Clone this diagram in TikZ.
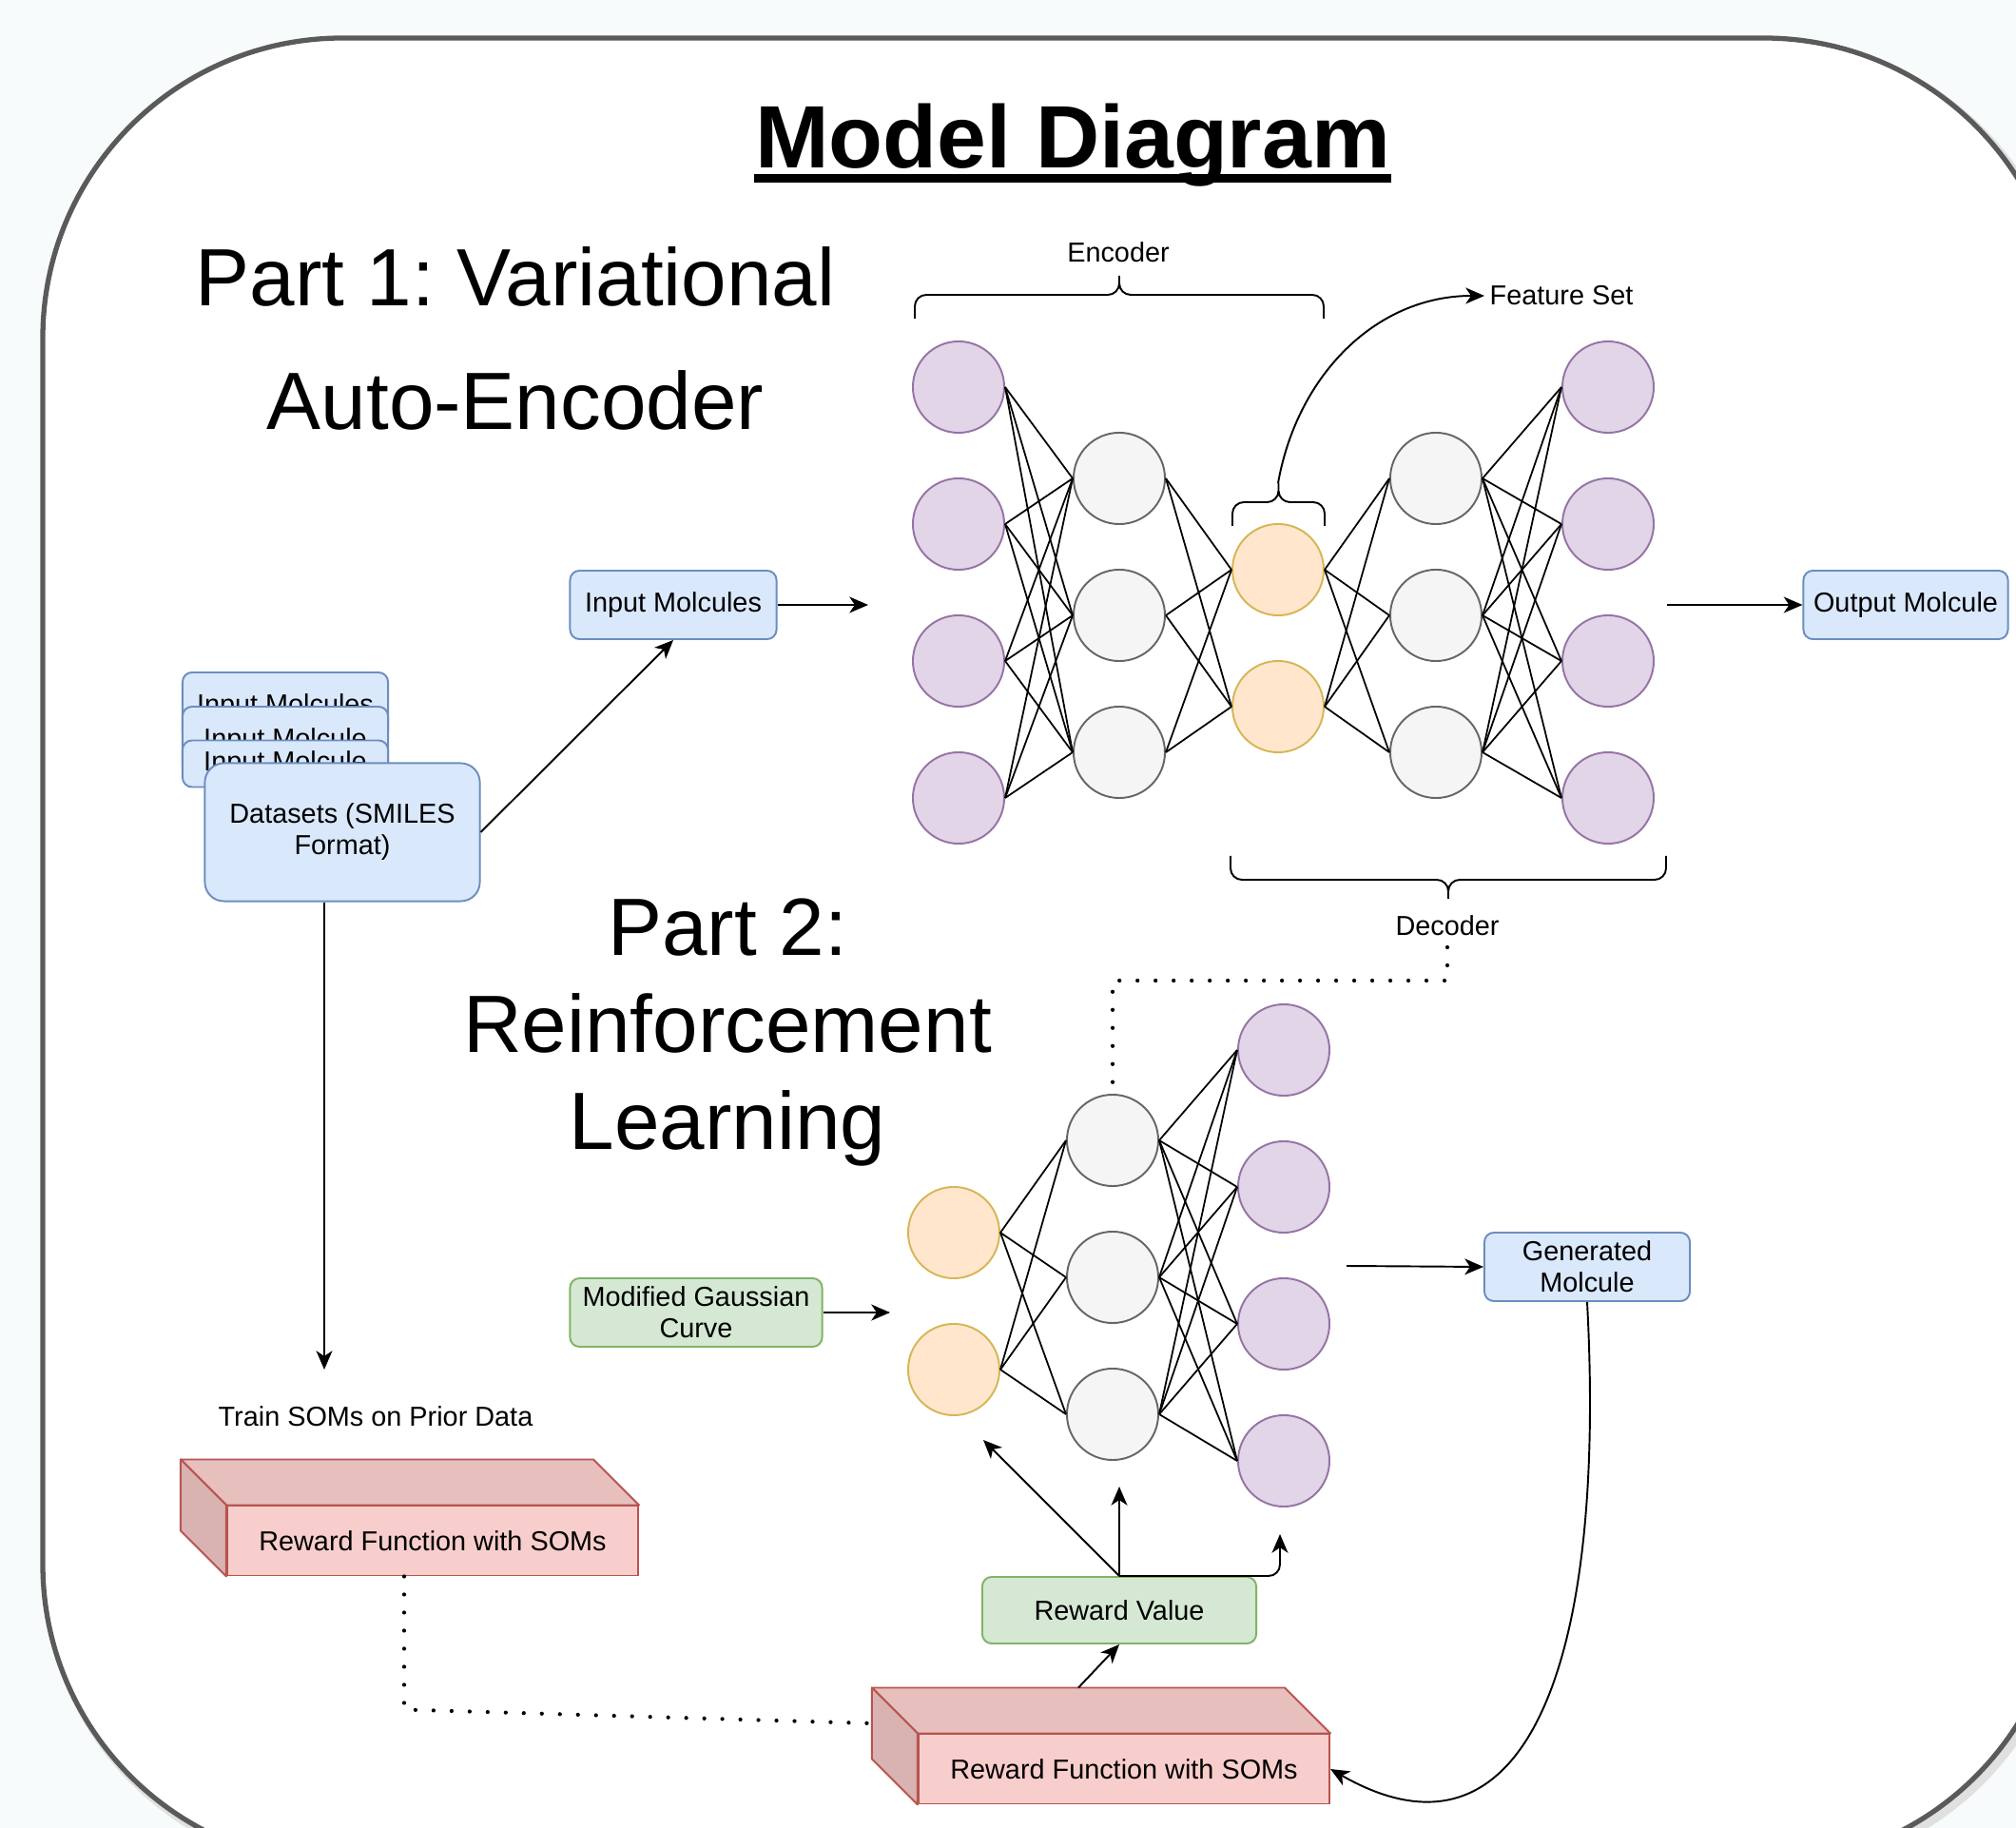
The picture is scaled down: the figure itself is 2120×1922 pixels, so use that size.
\documentclass[tikz,border=0pt]{standalone}
\usepackage{fontspec}
\setmainfont{Liberation Sans}
\usetikzlibrary{arrows.meta}
\frenchspacing

\definecolor{purpfill}{HTML}{E1D5E7}
\definecolor{purpline}{HTML}{9673A6}
\definecolor{greyfill}{HTML}{F5F5F5}
\definecolor{greyline}{HTML}{666666}
\definecolor{latfill}{HTML}{FFE6CC}
\definecolor{latline}{HTML}{D6B656}
\definecolor{bluefill}{HTML}{DAE8FC}
\definecolor{blueline}{HTML}{6C8EBF}
\definecolor{greenfill}{HTML}{D5E8D4}
\definecolor{greenline}{HTML}{82B366}
\definecolor{redfill}{HTML}{F8CECC}
\definecolor{redline}{HTML}{B85450}
\definecolor{pagebg}{RGB}{247,251,251}
\definecolor{framegrey}{RGB}{90,90,90}

\tikzset{
  neuron/.style={circle, minimum size=0.96cm, inner sep=0pt, line width=0.55pt},
  inneuron/.style={neuron, fill=purpfill, draw=purpline},
  hidneuron/.style={neuron, fill=greyfill, draw=greyline},
  latneuron/.style={neuron, fill=latfill, draw=latline},
  box/.style={rectangle, rounded corners=0.1cm, line width=0.55pt, minimum height=0.72cm,
    align=center, inner sep=1pt, font=\fontsize{8.2}{9.4}\selectfont},
  bluebox/.style={box, fill=bluefill, draw=blueline},
  greenbox/.style={box, fill=greenfill, draw=greenline},
  redfront/.style={box, sharp corners, fill=redfill, draw=redline, minimum height=0.73cm},
  lbl/.style={font=\fontsize{8.2}{9.4}\selectfont},
  wire/.style={line width=0.5pt},
  link/.style={line width=0.55pt, -{Stealth[length=5.6pt,width=4.8pt,inset=1.6pt]}},
  dotline/.style={line width=1.2pt, line cap=round, dash pattern=on 0pt off 5.4pt},
}

\begin{document}
\begin{tikzpicture}[x=0.01cm, y=-0.01cm]
  \useasboundingbox (0,0) rectangle (2120,1922);
  \clip (0,0) rectangle (2120,1922);
  \fill[pagebg] (0,0) rectangle (2120,1922);
  %% frame
  \draw[black!12, line width=2.5pt, rounded corners=3.15cm] (49,45) rectangle (2175,1965);
  \draw[framegrey, fill=white, line width=1.5pt, rounded corners=3.15cm] (45,40) rectangle (2170,1960);

  %% titles
  \node[inner sep=0pt, anchor=base, font=\fontsize{26.5}{30}\selectfont\bfseries] (title) at (1128,177) {Model Diagram};
  \draw[line width=2.5pt] ([shift={(0,10.5)}]title.base west) -- ([shift={(0,10.5)}]title.base east);
  \node[align=center, font=\fontsize{24.3}{37}\selectfont] (part1) at (542,356) {Part 1: Variational\\Auto-Encoder};
  \node[align=center, font=\fontsize{24.3}{29}\selectfont] (part2) at (765,1086) {Part 2:\\Reinforcement\\Learning};

  %% auto-encoder
  \foreach \i in {1,...,4} {
    \node[inneuron] (ein\i) at (1008,{263+144*\i}) {};
    \node[inneuron] (eout\i) at (1691,{263+144*\i}) {};
  }
  \foreach \i in {1,2,3} {
    \node[hidneuron] (ehid\i) at (1177,{359+144*\i}) {};
    \node[hidneuron] (dhid\i) at (1510,{359+144*\i}) {};
  }
  \foreach \i in {1,2}
    \node[latneuron] (lat\i) at (1344,{455+144*\i}) {};
  \foreach \i in {1,...,4}
    \foreach \j in {1,2,3} {
      \draw[wire] (ein\i.east) -- (ehid\j.west);
      \draw[wire] (dhid\j.east) -- (eout\i.west);
    }
  \foreach \i in {1,2}
    \foreach \j in {1,2,3} {
      \draw[wire] (ehid\j.east) -- (lat\i.west);
      \draw[wire] (lat\i.east) -- (dhid\j.west);
    }

  %% reinforcement network
  \foreach \i in {1,2}
    \node[latneuron] (rin\i) at (1003,{1152+144*\i}) {};
  \foreach \i in {1,2,3}
    \node[hidneuron] (rhid\i) at (1170,{1055+144*\i}) {};
  \foreach \i in {1,...,4}
    \node[inneuron] (rout\i) at (1350,{960+144*\i}) {};
  \foreach \i in {1,2}
    \foreach \j in {1,2,3}
      \draw[wire] (rin\i.east) -- (rhid\j.west);
  \foreach \j in {1,2,3}
    \foreach \k in {1,...,4}
      \draw[wire] (rhid\j.east) -- (rout\k.west);

  %% braces
  \foreach \l/\r/\y/\s in {962/1392/335/-1, 1296/1393/553/-1, 1294/1752/900/1}
    \draw[line width=0.55pt, rounded corners=0.12cm]
      (\l,\y) -- (\l,{\y+25*\s}) -- ({(\l+\r)/2},{\y+25*\s}) -- ({(\l+\r)/2},{\y+45*\s})
      (\r,\y) -- (\r,{\y+25*\s}) -- ({(\l+\r)/2},{\y+25*\s}) -- ({(\l+\r)/2},{\y+45*\s});
  \node[lbl] (enclbl) at (1176,265) {Encoder};
  \node[lbl] (declbl) at (1522,973) {Decoder};
  \node[lbl, anchor=west, inner sep=0pt] (featlbl) at (1566,311) {Feature Set};

  %% boxes
  \node[bluebox, minimum width=2.17cm] (inmol) at (708,636) {Input Molcules};
  \node[bluebox, minimum width=2.15cm] (outmol) at (2004,636) {Output Molcule};
  \foreach \txt/\y/\h [count=\k] in {Input Molcules/743/0.72cm, Input Molcule/779/0.72cm, Input Molcule/803/0.49cm}
    \node[bluebox, minimum width=2.16cm, minimum height=\h] (stack\k) at (300,\y) {\txt};
  \node[bluebox, minimum width=2.89cm, minimum height=1.45cm, rounded corners=0.2cm] (data) at (360,875) {Datasets (SMILES\\Format)};
  \node[lbl] (trainlbl) at (395,1489) {Train SOMs on Prior Data};
  \node[greenbox, minimum width=2.65cm] (gauss) at (732,1380) {Modified Gaussian\\Curve};
  \node[bluebox, minimum width=2.16cm] (gen) at (1669,1332) {Generated\\Molcule};
  \node[greenbox, minimum width=2.88cm, minimum height=0.7cm] (reward) at (1177,1693) {Reward Value};
  \foreach \cb/\x/\y in {som1/455/1620, som2/1182/1860} {
    \node[redfront, minimum width=4.32cm] (\cb) at (\x,\y) {Reward Function with SOMs};
    \draw[redline, fill=redfill!93!black, line width=0.55pt, line join=round]
      (\cb.north west) -- ++(-48,-48) -- ([shift={(-48,-48)}]\cb.north east) -- (\cb.north east) -- cycle;
    \draw[redline, fill=redfill!87!black, line width=0.55pt, line join=round]
      (\cb.north west) -- ++(-48,-48) -- ([shift={(-48,-48)}]\cb.south west) -- (\cb.south west) -- cycle;
  }

  %% free ends
  \coordinate (ftip) at (1344,508);
  \coordinate (aein) at (913,636);
  \coordinate (aeout) at (1753,636);
  \coordinate (somin) at (341,1440);
  \coordinate (rlin) at (936,1380);
  \coordinate (rlout) at (1416,1331);
  \coordinate (fbin) at (1034,1514);
  \coordinate (fbhid) at (1177,1563);
  \coordinate (fbout) at (1346,1613);

  %% connectors
  \draw[link] (inmol.east) -- (aein);
  \draw[link] (aeout) -- (outmol.west);
  \draw[link] (data.east) -- (inmol.south);
  \draw[link] ([shift={(-19,0)}]data.south) -- (somin);
  \draw[link] (ftip) to[out=80,in=180] ([shift={(-5,0)}]featlbl.west);
  \draw[dotline] (declbl.south) |- ([shift={(0,-119)}]rhid1.north) -- ([shift={(0,-10)}]rhid1.north);
  \draw[link] (gauss.east) -- (rlin);
  \draw[link] (rlout) -- (gen.west);
  \draw[link] (gen.south) .. controls (1690,1760) and (1600,1975) .. (som2.east);
  \draw[dotline] ([shift={(-30,0)}]som1.south) -- ++(0,140) -- ([shift={(-48,-48)}]som2.west);
  \draw[link] ([shift={(-48,-48)}]som2.north) -- (reward.south);
  \draw[link] (reward.north) -- (fbin);
  \draw[link] (reward.north) -- (fbhid);
  \draw[link, rounded corners=0.12cm] (reward.north) -| (fbout);
\end{tikzpicture}
\end{document}
